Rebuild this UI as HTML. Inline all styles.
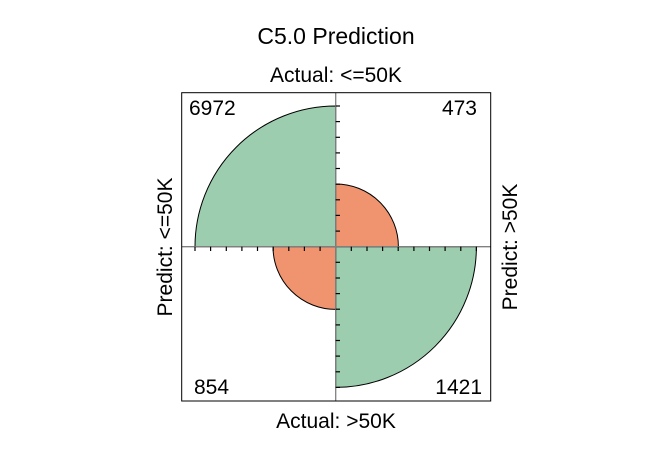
<!DOCTYPE html>
<html><head><style>body{margin:0;background:#fff}</style></head><body>
<svg width="672" height="447" xmlns="http://www.w3.org/2000/svg" font-family="Liberation Sans, Arial, sans-serif">
<rect width="672" height="447" fill="#fff"/>
<text x="336" y="44" font-size="23" text-anchor="middle">C5.0 Prediction</text>
<text x="336" y="82" font-size="21" text-anchor="middle">Actual: &lt;=50K</text>
<text x="336" y="428" font-size="21" text-anchor="middle">Actual: &gt;50K</text>
<text transform="translate(172,247) rotate(-90)" font-size="21" text-anchor="middle">Predict: &lt;=50K</text>
<text transform="translate(517,247) rotate(-90)" font-size="21" text-anchor="middle">Predict: &gt;50K</text>
<g stroke="#000" stroke-width="1">
<path d="M335.7,246.7 L195,246.7 A140.7,140.7 0 0 1 335.7,106 Z" fill="#9ccdae"/>
<path d="M335.7,246.7 L476.4,246.7 A140.7,140.7 0 0 1 335.7,387.4 Z" fill="#9ccdae"/>
<path d="M335.7,246.7 L335.7,184 A62.7,62.7 0 0 1 398.4,246.7 Z" fill="#ef946f"/>
<path d="M335.7,246.7 L335.7,309.4 A62.7,62.7 0 0 1 273,246.7 Z" fill="#ef946f"/>
</g>
<g stroke="#808080" stroke-width="1.3">
<line x1="335.7" y1="92.7" x2="335.7" y2="401"/>
<line x1="181.7" y1="246.7" x2="490.7" y2="246.7"/>
</g>
<g stroke="#000" stroke-width="1.2">
<line x1="335.7" y1="231.1" x2="340" y2="231.1"/><line x1="335.7" y1="215.4" x2="340" y2="215.4"/><line x1="335.7" y1="199.8" x2="340" y2="199.8"/><line x1="335.7" y1="184.2" x2="340" y2="184.2"/><line x1="335.7" y1="168.5" x2="340" y2="168.5"/><line x1="335.7" y1="152.9" x2="340" y2="152.9"/><line x1="335.7" y1="137.3" x2="340" y2="137.3"/><line x1="335.7" y1="121.6" x2="340" y2="121.6"/><line x1="335.7" y1="106" x2="340" y2="106"/>
<line x1="335.7" y1="262.3" x2="340" y2="262.3"/><line x1="335.7" y1="278" x2="340" y2="278"/><line x1="335.7" y1="293.6" x2="340" y2="293.6"/><line x1="335.7" y1="309.2" x2="340" y2="309.2"/><line x1="335.7" y1="324.9" x2="340" y2="324.9"/><line x1="335.7" y1="340.5" x2="340" y2="340.5"/><line x1="335.7" y1="356.1" x2="340" y2="356.1"/><line x1="335.7" y1="371.8" x2="340" y2="371.8"/><line x1="335.7" y1="387.4" x2="340" y2="387.4"/>
<line y1="246.7" y2="251" x1="320.1" x2="320.1"/><line y1="246.7" y2="251" x1="304.4" x2="304.4"/><line y1="246.7" y2="251" x1="288.8" x2="288.8"/><line y1="246.7" y2="251" x1="273.2" x2="273.2"/><line y1="246.7" y2="251" x1="257.5" x2="257.5"/><line y1="246.7" y2="251" x1="241.9" x2="241.9"/><line y1="246.7" y2="251" x1="226.3" x2="226.3"/><line y1="246.7" y2="251" x1="210.6" x2="210.6"/><line y1="246.7" y2="251" x1="195" x2="195"/>
<line y1="246.7" y2="251" x1="351.3" x2="351.3"/><line y1="246.7" y2="251" x1="367" x2="367"/><line y1="246.7" y2="251" x1="382.6" x2="382.6"/><line y1="246.7" y2="251" x1="398.2" x2="398.2"/><line y1="246.7" y2="251" x1="413.9" x2="413.9"/><line y1="246.7" y2="251" x1="429.5" x2="429.5"/><line y1="246.7" y2="251" x1="445.1" x2="445.1"/><line y1="246.7" y2="251" x1="460.8" x2="460.8"/><line y1="246.7" y2="251" x1="476.4" x2="476.4"/>
</g>
<rect x="181.7" y="92.7" width="309" height="308.3" fill="none" stroke="#000" stroke-width="1"/>
<g font-size="21">
<text x="189" y="115">6972</text>
<text x="477" y="115" text-anchor="end">473</text>
<text x="194" y="394">854</text>
<text x="482" y="394" text-anchor="end">1421</text>
</g>
</svg>
</body></html>
